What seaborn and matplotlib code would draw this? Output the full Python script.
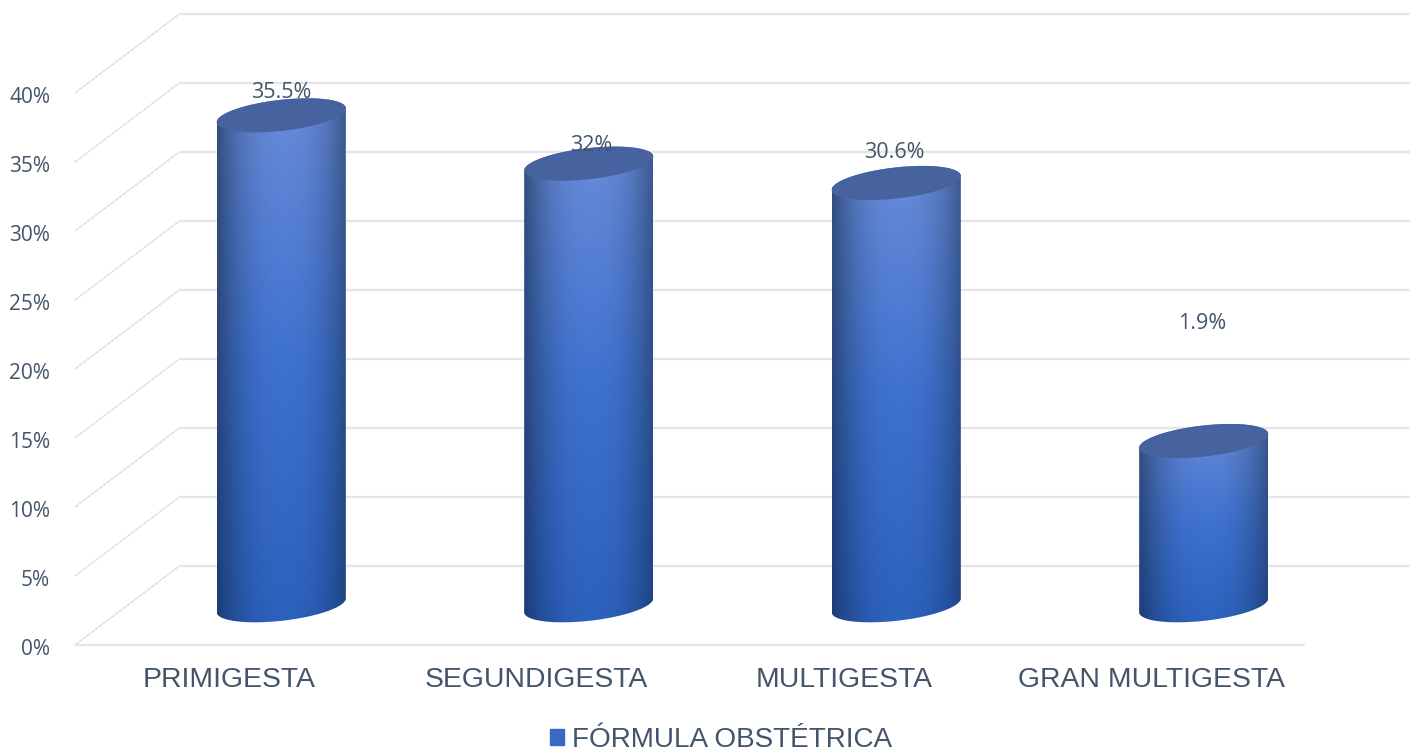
import numpy as np
import pandas as pd
import seaborn as sns
from matplotlib import pyplot as plt
from matplotlib.patches import Patch, Polygon
from matplotlib.transforms import ScaledTranslation

categories = ['PRIMIGESTA', 'SEGUNDIGESTA', 'MULTIGESTA', 'GRAN MULTIGESTA']
values = [35.5, 32.0, 30.6, 11.9]
value_labels = ['35.5%', '32%', '30.6%', '1.9%']
y_ticks = [0, 5, 10, 15, 20, 25, 30, 35, 40]
series_name = 'FÓRMULA OBSTÉTRICA'

W, H = 1417, 754
TEXT = '#44546a'
GRID = '#e6e6ea'

sns.set_theme(style='white')
plt.rcParams['font.family'] = ['Liberation Sans', 'DejaVu Sans']

fig = plt.figure(figsize=(W / 100, H / 100), dpi=100)
# front plane of the fake 3d box
ax = fig.add_axes([75 / W, 1 - 645 / H, 1230 / W, 552 / H])

data = pd.DataFrame({'cat': categories, 'val': values})
sns.barplot(data, x='cat', y='val', width=129 / 307.5, ax=ax)
ax.set_xlim(-0.5, 3.5)
ax.set_ylim(0, 40)

# pixel sizes of one category and of one percent
px_x = 1230 / 4
px_y = 552 / 40
depth_x = 105 / px_x
depth_y = 79.5 / px_y

# walls
for y in y_ticks:
    ax.plot([-0.5 + depth_x, 3.5 + depth_x], [y + depth_y, y + depth_y], color=GRID, lw=1.7,
            clip_on=False, zorder=1, solid_capstyle='butt')
    ax.plot([-0.5, -0.5 + depth_x], [y, y + depth_y], color='#dcdcdc', lw=1, ls=(0, (3, 0.6)),
            clip_on=False, zorder=1)
ax.plot([-0.5, 3.5], [0, 0], color=GRID, lw=1.7, clip_on=False, zorder=1, solid_capstyle='butt')


def ellipse_pts(cx, cy, a, b, start, stop, n=80):
    # tilted ellipse, worked out in pixels then turned back to data units
    t = np.linspace(start, stop, n)
    th = np.radians(6.5)
    ex = a * np.cos(t) * np.cos(th) - b * np.sin(t) * np.sin(th)
    ey = a * np.cos(t) * np.sin(th) + b * np.sin(t) * np.cos(th)
    return np.column_stack([cx + ex / px_x, cy + ey / px_y])


def lerp(c1, c2, f):
    return c1 + (c2 - c1) * f[..., None]


def rgb(c):
    return np.array([int(c[i:i + 2], 16) for i in (1, 3, 5)]) / 255


def body_image(n=200):
    u, v = np.meshgrid(np.linspace(0, 1, n), np.linspace(1, 0, n))
    mid = np.where(v < 0.5, 0, 1)
    center = np.where(mid[..., None] == 0,
                      lerp(rgb('#2b60bb'), rgb('#3e72d0'), v * 2),
                      lerp(rgb('#3e72d0'), rgb('#6c8cd9'), v * 2 - 1))
    edge = lerp(rgb('#1b3b76'), rgb('#34507f'), v)
    shade = np.clip(np.abs(u - 0.52) / 0.52, 0, 1) ** 2.3
    return lerp(center, edge, shade)


A, B = 65, 15.5
bars = list(ax.patches)
for bar in bars:
    bar.set_visible(False)
    cx = bar.get_x() + bar.get_width() / 2 + depth_x / 2
    base = depth_y / 2
    top = bar.get_height() + base
    half = bar.get_width() / 2
    low = ellipse_pts(cx, base, A, B, np.pi, 2 * np.pi)
    upp = ellipse_pts(cx, top, A, B, 0, np.pi)
    outline = np.vstack([low, upp])
    clip = Polygon(outline, closed=True, transform=ax.transData, fc='none', ec='none')
    ax.add_patch(clip)
    clip.set_clip_on(False)
    im = ax.imshow(body_image(), extent=[cx - half, cx + half, base - 2, top + 2],
                   aspect='auto', zorder=3, interpolation='bilinear')
    im.set_clip_path(clip)
    cap = ellipse_pts(cx, top, A, B, 0, 2 * np.pi)
    ax.add_patch(Polygon(cap, closed=True, fc='#47639f', ec='none', zorder=4))

ax.set_xlim(-0.5, 3.5)
ax.set_ylim(0, 40)

# labels are hand placed in the original, they do not sit on the bars
label_y = [40.05, 36.2, 35.7, 23.3]
label_x = [0.17, 1.18, 2.165, 3.165]
for x, y, s in zip(label_x, label_y, value_labels):
    ax.text(x, y, s, ha='center', va='center', fontsize=15.5, color=TEXT, family='Open Sans',
            zorder=5)

ax.set_xlabel('')
ax.set_ylabel('')
ax.set_yticks(y_ticks)
ax.set_yticklabels([f'{y}%' for y in y_ticks], fontsize=15, color=TEXT, family='Open Sans')
ax.set_xticks(range(4))
ax.set_xticklabels(categories, fontsize=20.4, color=TEXT)
ax.tick_params(axis='x', length=0, pad=15.5)
ax.tick_params(axis='y', length=0, pad=18)
nudge = ScaledTranslation(0, -1.5 / 72, fig.dpi_scale_trans)
for lab in ax.get_yticklabels():
    lab.set_transform(lab.get_transform() + nudge)
sns.despine(ax=ax, top=True, right=True, bottom=True, left=True)
ax.patch.set_visible(False)

fig.legend(handles=[Patch(color='#3a68c4', label=series_name)], loc='center',
           bbox_to_anchor=(721 / W, 1 - 740 / H), frameon=False, fontsize=20.1,
           labelcolor=TEXT, handlelength=0.5, handleheight=0.5, handletextpad=0.3,
           borderpad=0, borderaxespad=0)

fig.savefig('out.png', dpi=100, facecolor='white')
